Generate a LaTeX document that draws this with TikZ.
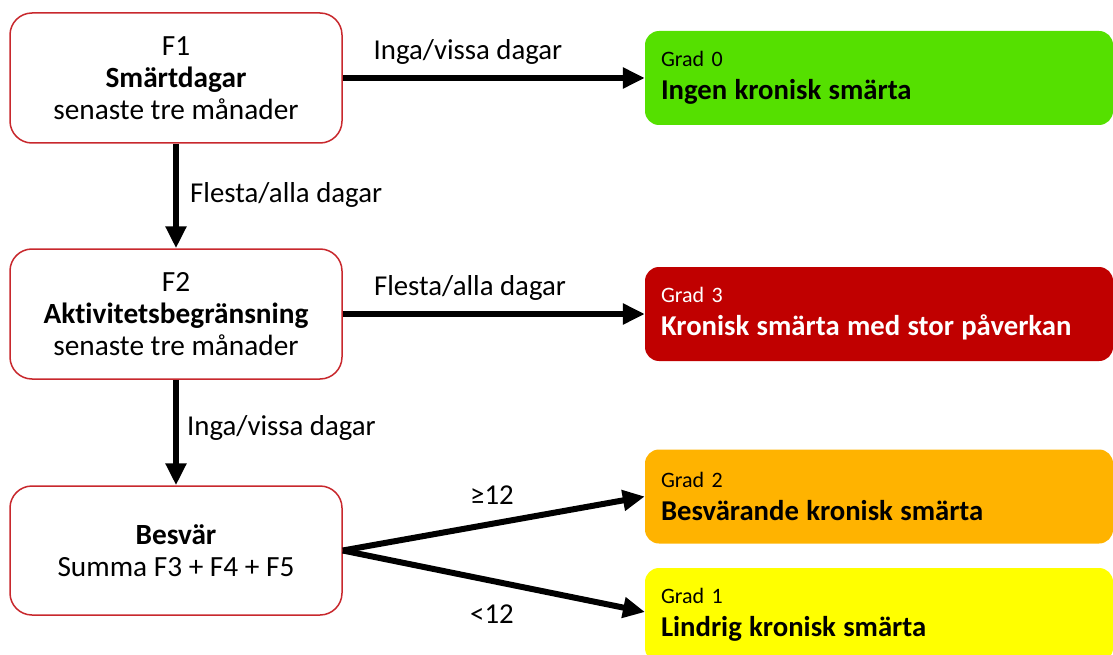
\documentclass[tikz,border=0pt]{standalone}
\usepackage{fontspec}
\setmainfont{Carlito}[Ligatures=NoCommon]
\usetikzlibrary{arrows.meta}
\definecolor{boxred}{HTML}{C8282D}
\definecolor{gzero}{HTML}{55E000}
\definecolor{gthree}{HTML}{C00000}
\definecolor{gtwo}{HTML}{FFB300}
\definecolor{gone}{HTML}{FFFF00}
\begin{document}
\begin{tikzpicture}[x=1pt,y=-1pt,
 qbox/.style={draw=boxred, line width=1.5pt, rounded corners=22pt, fill=white, minimum width=332pt, minimum height=130pt, align=center, font=\fontsize{29.3}{32}\selectfont, inner sep=0pt},
 gbox/.style={rounded corners=14pt, minimum width=468pt, minimum height=94pt, text width=436pt, align=left, inner xsep=16pt, inner ysep=0pt, font=\fontsize{22}{30}\selectfont},
 flow/.style={line width=6pt, -{Triangle[length=22pt,width=20pt]}},
 lbl/.style={font=\fontsize{28.8}{30}\selectfont, inner sep=0pt}]
\useasboundingbox (0,0) rectangle (1113,655);
\clip (0,0) rectangle (1113,655);

\node[qbox] (f1) at (176,78) {F1\\\textbf{Smärtdagar}\\senaste tre månader};
\node[qbox] (f2) at (176,314) {F2\\\textbf{Aktivitetsbegränsning}\\senaste tre månader};
\node[qbox, minimum height=129pt] (bes) at (176,550.5) {\textbf{Besvär}\\Summa F3 + F4 + F5};

\node[gbox, fill=gzero] (g0) at (879,78) {Grad 0\\[3pt]{\fontsize{28.7}{30}\selectfont\bfseries Ingen kronisk smärta}};
\node[gbox, fill=gthree, text=white] (g3) at (879,314) {Grad 3\\[3pt]{\fontsize{28.7}{30}\selectfont\bfseries Kronisk smärta med stor påverkan}};
\node[gbox, fill=gtwo] (g2) at (879,496.5) {Grad 2\\[3pt]{\fontsize{28.7}{30}\selectfont\bfseries Besvärande kronisk smärta}};
\node[gbox, fill=gone] (g1) at (879,615) {Grad 1\\[3pt]{\fontsize{28.7}{30}\selectfont\bfseries Lindrig kronisk smärta}};

\draw[flow] (f1.east) -- (g0.west);
\draw[flow] (f1.south) -- (f2.north);
\draw[flow] (f2.east) -- (g3.west);
\draw[flow] (f2.south) -- (bes.north);
\draw[flow] (bes.east) -- (g2.west);
\draw[flow] (bes.east) -- (645,612) coordinate (g1in);

\node[lbl] (l1) at (468,52) {Inga/vissa dagar};
\node[lbl, anchor=west] (l2) at (190,195) {Flesta/alla dagar};
\node[lbl] (l3) at (470,288) {Flesta/alla dagar};
\node[lbl, anchor=west] (l4) at (187,428) {Inga/vissa dagar};
\node[lbl] (l5) at (492,495) {≥12};
\node[lbl] (l6) at (492,614) {<12};
\end{tikzpicture}
\end{document}
